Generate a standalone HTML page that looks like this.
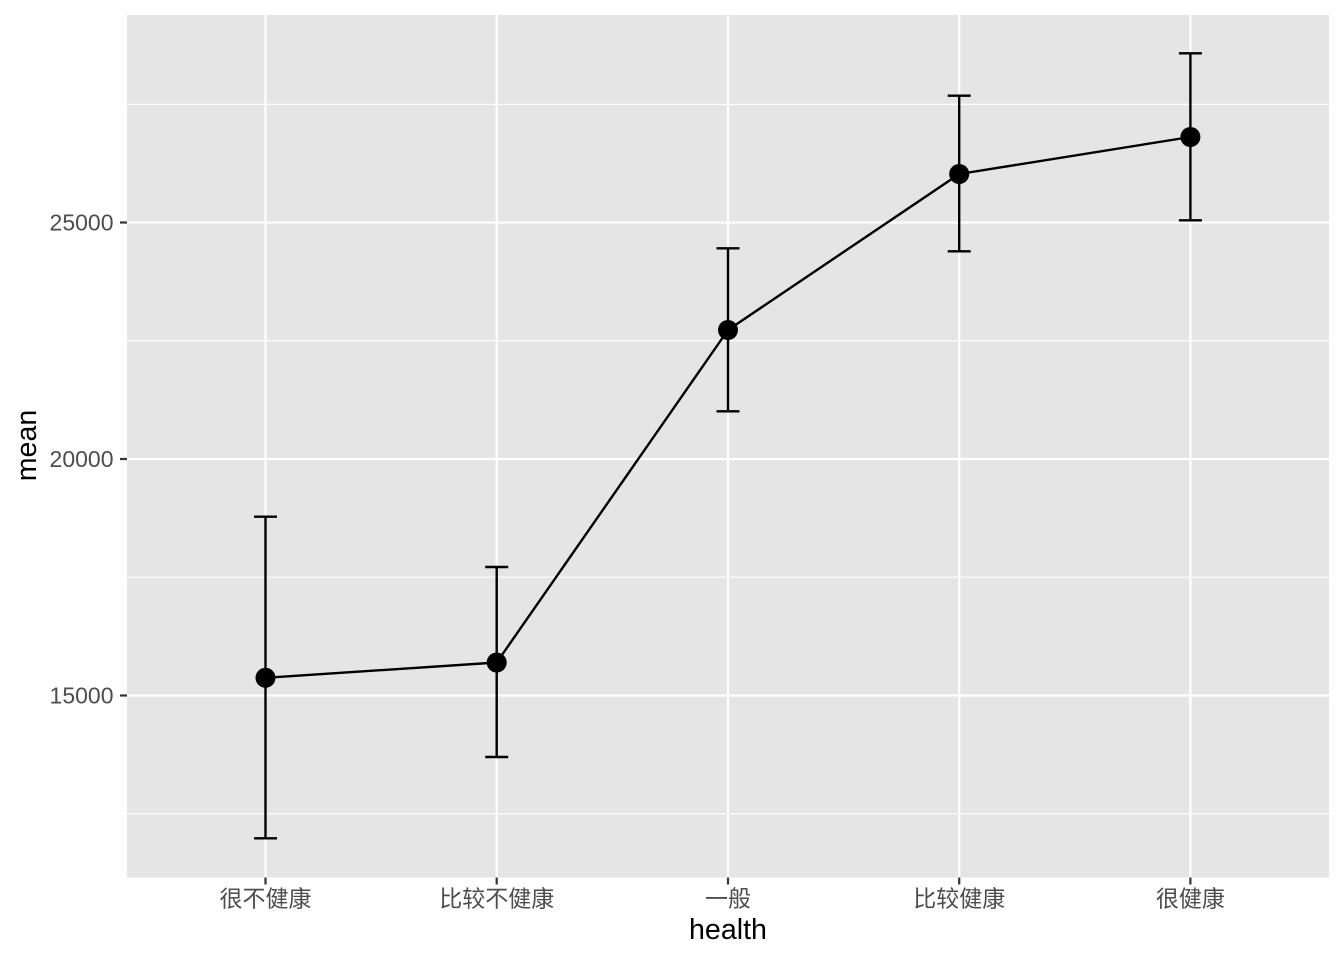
<!DOCTYPE html>
<html>
<head>
<meta charset="utf-8">
<style>
html,body{margin:0;padding:0;background:#fff;}
svg{display:block;}
text{font-family:"Liberation Sans","Noto Sans CJK SC",sans-serif;}
</style>
</head>
<body>
<svg width="1344" height="960" viewBox="0 0 1344 960" xmlns="http://www.w3.org/2000/svg">
<rect x="0" y="0" width="1344" height="960" fill="#fff"/>
<!-- panel -->
<rect x="127" y="15" width="1202" height="862.5" fill="#e5e5e5"/>
<!-- minor gridlines -->
<g stroke="#fff" stroke-width="1.1">
<line x1="127" x2="1329" y1="104.3" y2="104.3"/>
<line x1="127" x2="1329" y1="340.7" y2="340.7"/>
<line x1="127" x2="1329" y1="577.2" y2="577.2"/>
<line x1="127" x2="1329" y1="813.7" y2="813.7"/>
</g>
<!-- major gridlines -->
<g stroke="#fff" stroke-width="2.2">
<line x1="127" x2="1329" y1="222.5" y2="222.5"/>
<line x1="127" x2="1329" y1="459" y2="459"/>
<line x1="127" x2="1329" y1="695.5" y2="695.5"/>
<line y1="15" y2="877.5" x1="265.5" x2="265.5"/>
<line y1="15" y2="877.5" x1="496.7" x2="496.7"/>
<line y1="15" y2="877.5" x1="728" x2="728"/>
<line y1="15" y2="877.5" x1="959.2" x2="959.2"/>
<line y1="15" y2="877.5" x1="1190.4" x2="1190.4"/>
</g>
<!-- error bars -->
<g stroke="#000" stroke-width="2.4" fill="none">
<path d="M254,516.7H277M265.5,516.7V838.3M254,838.3H277"/>
<path d="M485.2,567H508.2M496.7,567V757M485.2,757H508.2"/>
<path d="M716.5,248.3H739.5M728,248.3V411.3M716.5,411.3H739.5"/>
<path d="M947.7,95.7H970.7M959.2,95.7V251.3M947.7,251.3H970.7"/>
<path d="M1178.9,53.3H1201.9M1190.4,53.3V220.3M1178.9,220.3H1201.9"/>
</g>
<!-- line -->
<polyline points="265.5,677.8 496.7,662.5 728,330 959.2,174 1190.4,137" fill="none" stroke="#000" stroke-width="2.4" stroke-linejoin="round"/>
<!-- points -->
<g fill="#000">
<circle cx="265.5" cy="677.8" r="10"/>
<circle cx="496.7" cy="662.5" r="10"/>
<circle cx="728" cy="330" r="10"/>
<circle cx="959.2" cy="174" r="10"/>
<circle cx="1190.4" cy="137" r="10"/>
</g>
<!-- ticks -->
<g stroke="#333" stroke-width="2.2">
<line x1="120" x2="127" y1="222.5" y2="222.5"/>
<line x1="120" x2="127" y1="459" y2="459"/>
<line x1="120" x2="127" y1="695.5" y2="695.5"/>
<line y1="877.5" y2="884.5" x1="265.5" x2="265.5"/>
<line y1="877.5" y2="884.5" x1="496.7" x2="496.7"/>
<line y1="877.5" y2="884.5" x1="728" x2="728"/>
<line y1="877.5" y2="884.5" x1="959.2" x2="959.2"/>
<line y1="877.5" y2="884.5" x1="1190.4" x2="1190.4"/>
</g>
<!-- y tick labels -->
<g fill="#4d4d4d" font-size="23" text-anchor="end">
<text x="113.5" y="230.7">25000</text>
<text x="113.5" y="467.2">20000</text>
<text x="113.5" y="703.7">15000</text>
</g>
<!-- x tick labels -->
<g fill="#4d4d4d" font-size="23" text-anchor="middle">
<text x="265.5" y="906.5">很不健康</text>
<text x="496.7" y="906.5">比较不健康</text>
<text x="728" y="906.5">一般</text>
<text x="959.2" y="906.5">比较健康</text>
<text x="1190.4" y="906.5">很健康</text>
</g>
<!-- axis titles -->
<text x="728" y="939" font-size="28.6" text-anchor="middle" fill="#000">health</text>
<text transform="translate(36,445.5) rotate(-90)" font-size="28.6" text-anchor="middle" fill="#000">mean</text>
</svg>
</body>
</html>
